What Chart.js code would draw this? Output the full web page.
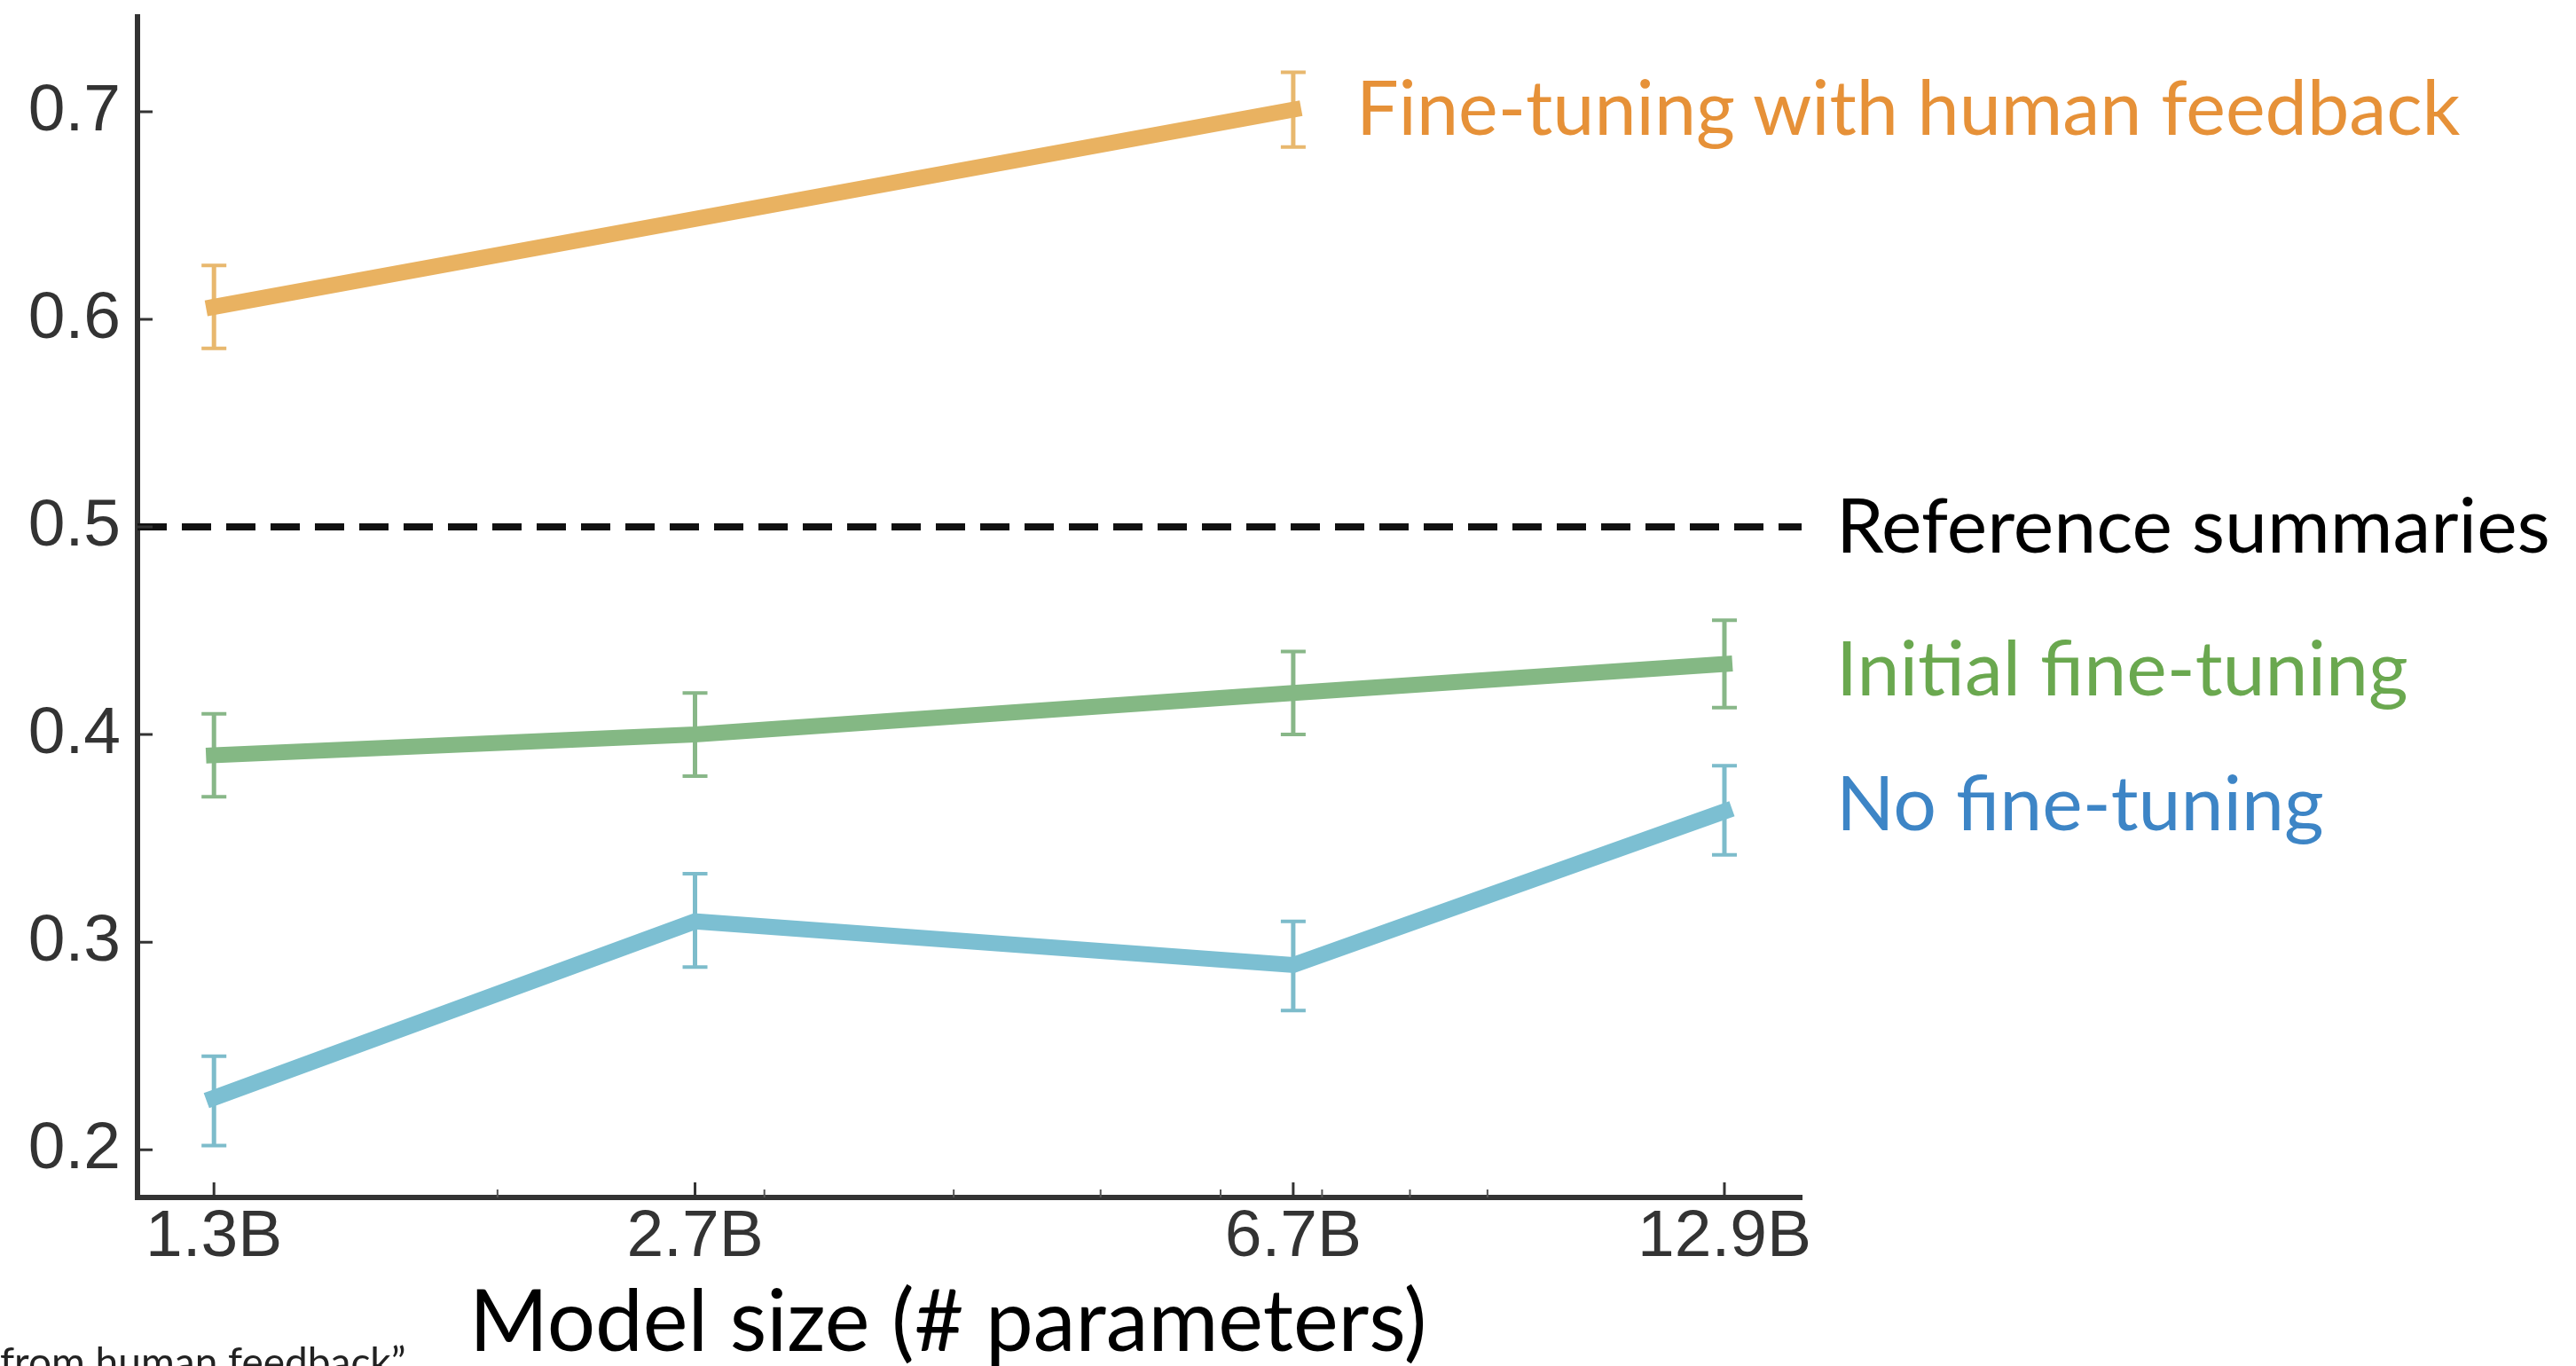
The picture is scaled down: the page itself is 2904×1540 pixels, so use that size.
<!DOCTYPE html>
<html lang="en">
<head>
    <meta charset="UTF-8">
    <title>Model size vs preference</title>
    <style>
        body { margin: 0; background: #fff; width: 2904px; height: 1540px; overflow: hidden; position: relative; font-family: Lato, sans-serif; }
        canvas { position: absolute; left: 0; top: 0; }
        .label { position: absolute; font-family: Lato, sans-serif; font-size: 86px; line-height: 1; white-space: nowrap; }
        .axis-title { position: absolute; left: 529px; top: 1438px; font-family: Lato, sans-serif; font-size: 96px; line-height: 1; color: #000; white-space: nowrap; }
        .source { position: absolute; left: 0; top: 1512px; font-family: Lato, sans-serif; font-size: 46px; line-height: 1; color: #222; white-space: nowrap; }
    </style>
</head>
<body>
    <canvas id="chart" width="2904" height="1540"></canvas>

    <!-- series labels on the right -->
    <div class="label" style="left:1529px; top:78px; color:#E69138; font-size:84.5px;">Fine-tuning with human feedback</div>
    <div class="label" style="left:2070px; top:547px; color:#000;">Reference summaries</div>
    <div class="label" style="left:2070px; top:708px; color:#6AA84F;">Initial fine-tuning</div>
    <div class="label" style="left:2070px; top:860px; color:#3D85C6;">No fine-tuning</div>
    <div class="axis-title">Model size (# parameters)</div>
    <div class="source">from human feedback”</div>

    <script src="https://cdn.jsdelivr.net/npm/chart.js"></script>
    <script>
        // x positions (billions of parameters) and their labels
        const modelSizes = [1.3, 2.7, 6.7, 12.9];
        const sizeLabels = ['1.3B', '2.7B', '6.7B', '12.9B'];
        const minorSizes = [2, 3, 4, 5, 6, 7, 8, 9];
        const yTicks = [0.2, 0.3, 0.4, 0.5, 0.6, 0.7];

        // Fine-tuning with human feedback (only two sizes)
        const humanFeedback = [0.606, null, 0.701, null];
        const humanFeedbackLow = [0.586, null, 0.683, null];
        const humanFeedbackHigh = [0.626, null, 0.719, null];

        // Initial fine-tuning
        const initialFT = [0.390, 0.400, 0.420, 0.434];
        const initialFTLow = [0.370, 0.380, 0.400, 0.413];
        const initialFTHigh = [0.410, 0.420, 0.440, 0.455];

        // No fine-tuning
        const noFT = [0.225, 0.310, 0.289, 0.363];
        const noFTLow = [0.202, 0.288, 0.267, 0.342];
        const noFTHigh = [0.245, 0.333, 0.310, 0.385];

        const referenceLevel = 0.5;

        const xMin = 1.1574, xMax = 14.505;
        const yMin = 0.177, yMax = 0.7457;

        const toPoints = arr => modelSizes.map((x, i) => ({ x: x, y: arr[i] }));

        const errorSeries = [
            { low: humanFeedbackLow, high: humanFeedbackHigh, color: '#E8B86E' },
            { low: initialFTLow, high: initialFTHigh, color: '#88B788' },
            { low: noFTLow, high: noFTHigh, color: '#7DBCCB' }
        ];

        // error bars go under the thick lines
        const errorBars = {
            id: 'errorBars',
            beforeDatasetsDraw(chart) {
                const { ctx, scales: { x, y } } = chart;
                ctx.save();
                errorSeries.forEach(s => {
                    ctx.strokeStyle = s.color;
                    modelSizes.forEach((m, i) => {
                        if (s.low[i] == null) return;
                        const px = x.getPixelForValue(m);
                        const top = y.getPixelForValue(s.high[i]);
                        const bot = y.getPixelForValue(s.low[i]);
                        ctx.lineWidth = 5;
                        ctx.beginPath();
                        ctx.moveTo(px, top); ctx.lineTo(px, bot);
                        ctx.stroke();
                        ctx.lineWidth = 4;
                        ctx.beginPath();
                        ctx.moveTo(px - 14, top); ctx.lineTo(px + 14, top);
                        ctx.moveTo(px - 14, bot); ctx.lineTo(px + 14, bot);
                        ctx.stroke();
                    });
                });
                ctx.restore();
            }
        };

        // tick marks pointing into the plot
        const innerTicks = {
            id: 'innerTicks',
            afterDraw(chart) {
                const { ctx, scales: { x, y } } = chart;
                const left = chart.chartArea.left, bottom = chart.chartArea.bottom;
                ctx.save();
                ctx.strokeStyle = '#333';
                ctx.lineWidth = 3;
                ctx.beginPath();
                yTicks.forEach(v => {
                    const py = y.getPixelForValue(v);
                    ctx.moveTo(left, py); ctx.lineTo(left + 17, py);
                });
                modelSizes.forEach(v => {
                    const px = x.getPixelForValue(v);
                    ctx.moveTo(px, bottom); ctx.lineTo(px, bottom - 17);
                });
                ctx.stroke();
                ctx.strokeStyle = '#555';
                ctx.lineWidth = 2;
                ctx.beginPath();
                minorSizes.forEach(v => {
                    const px = x.getPixelForValue(v);
                    ctx.moveTo(px, bottom); ctx.lineTo(px, bottom - 9);
                });
                ctx.stroke();
                ctx.restore();
            }
        };

        const lineStyle = { borderWidth: 18, pointRadius: 0, borderCapStyle: 'square', borderJoinStyle: 'miter', tension: 0, spanGaps: true, fill: false };

        new Chart(document.getElementById('chart').getContext('2d'), {
            type: 'line',
            data: {
                datasets: [
                    { label: 'Reference summaries', data: [{ x: xMin, y: referenceLevel }, { x: xMax, y: referenceLevel }],
                      borderColor: '#111', borderWidth: 8, borderDash: [33, 17], pointRadius: 0, fill: false },
                    Object.assign({ label: 'No fine-tuning', data: toPoints(noFT), borderColor: '#7CBFD2' }, lineStyle),
                    Object.assign({ label: 'Initial fine-tuning', data: toPoints(initialFT), borderColor: '#84B884' }, lineStyle),
                    Object.assign({ label: 'Fine-tuning with human feedback', data: toPoints(humanFeedback), borderColor: '#E9B261' }, lineStyle)
                ]
            },
            options: {
                responsive: false,
                animation: false,
                layout: { padding: { top: 19, right: 873, left: 0, bottom: 0 } },
                plugins: { legend: { display: false }, tooltip: { enabled: false } },
                scales: {
                    x: {
                        type: 'logarithmic',
                        bounds: 'data',
                        min: xMin,
                        max: xMax,
                        afterFit: s => { s.height = 190; s.paddingLeft = 0; s.paddingRight = 0; },
                        afterBuildTicks: s => { s.ticks = modelSizes.map(v => ({ value: v })); },
                        grid: { display: false, drawTicks: false },
                        border: { display: true, color: '#333', width: 6 },
                        ticks: {
                            autoSkip: false, maxRotation: 0, padding: 0, color: '#333',
                            font: { family: 'Liberation Sans, Arial, sans-serif', size: 75, lineHeight: 1.2 },
                            callback: (v, i) => sizeLabels[i]
                        }
                    },
                    y: {
                        type: 'linear',
                        bounds: 'data',
                        min: yMin,
                        max: yMax,
                        afterFit: s => { s.width = 155; s.paddingTop = 0; s.paddingBottom = 0; },
                        afterBuildTicks: s => { s.ticks = yTicks.map(v => ({ value: v })); },
                        grid: { display: false, drawTicks: false },
                        border: { display: true, color: '#333', width: 6 },
                        ticks: {
                            padding: 19, color: '#333',
                            font: { family: 'Liberation Sans, Arial, sans-serif', size: 75 },
                            callback: v => v.toFixed(1)
                        }
                    }
                }
            },
            plugins: [errorBars, innerTicks]
        });
    </script>
</body>
</html>
